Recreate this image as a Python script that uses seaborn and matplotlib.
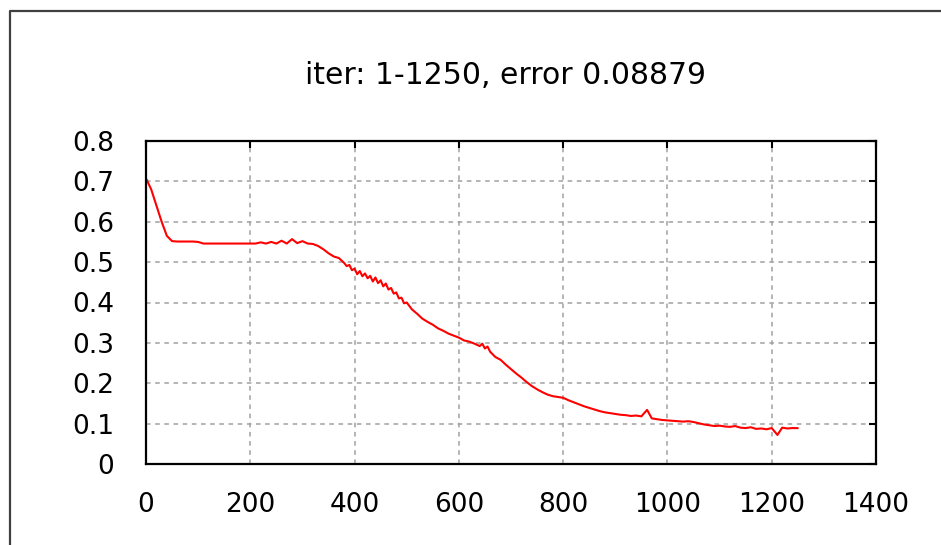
import numpy as np
import pandas as pd
import matplotlib
matplotlib.use("Agg")
import matplotlib.pyplot as plt
import seaborn as sns
from matplotlib.lines import Line2D

# ========== PODACI (ocitano sa slike) ==========
iteracije = [1, 10, 20, 30, 40, 50, 60, 70, 80, 90, 100, 110, 120, 130, 140, 150,
             160, 170, 180, 190, 200, 210, 220, 230, 240, 250, 260, 270, 280, 290,
             300, 310, 320, 330, 340, 350, 360, 370, 380, 385, 390, 395, 400, 405,
             410, 415, 420, 425, 430, 435, 440, 445, 450, 455, 460, 465, 470, 475,
             480, 485, 490, 495, 500, 510, 520, 530, 540, 550, 560, 570,
             580, 590, 600, 610, 620, 630, 640, 645, 650, 655, 660, 670, 680, 690,
             700, 710, 720, 730, 740, 750, 760, 770, 780, 790, 800, 810, 820, 830,
             840, 850, 860, 870, 880, 890, 900, 910, 920, 930, 940, 950, 961, 970,
             980, 990, 1000, 1010, 1020, 1030, 1040, 1050, 1060, 1070, 1080, 1090,
             1100, 1110, 1120, 1130, 1140, 1150, 1160, 1170, 1180, 1190, 1200, 1211,
             1220, 1230, 1240, 1250]
greska = [0.705, 0.680, 0.640, 0.600, 0.565, 0.552, 0.551, 0.551, 0.551, 0.551,
          0.550, 0.546, 0.546, 0.546, 0.546, 0.546, 0.546, 0.546, 0.546, 0.546,
          0.546, 0.546, 0.549, 0.546, 0.550, 0.546, 0.553, 0.546, 0.557, 0.547,
          0.552, 0.546, 0.545, 0.540, 0.532, 0.522, 0.514, 0.510, 0.498, 0.490,
          0.493, 0.480, 0.484, 0.470, 0.478, 0.465, 0.472, 0.460, 0.466, 0.452,
          0.462, 0.448, 0.455, 0.440, 0.447, 0.432, 0.436, 0.422, 0.425, 0.410,
          0.412, 0.398, 0.400, 0.383, 0.372, 0.360, 0.352, 0.345, 0.336, 0.330,
          0.323, 0.318, 0.313, 0.306, 0.303, 0.298, 0.292, 0.298, 0.286, 0.291,
          0.278, 0.265, 0.258, 0.246, 0.235, 0.224, 0.214, 0.203, 0.193, 0.185,
          0.178, 0.172, 0.168, 0.166, 0.164, 0.158, 0.153, 0.148, 0.143, 0.139,
          0.135, 0.131, 0.128, 0.126, 0.124, 0.122, 0.121, 0.119, 0.120, 0.118,
          0.134, 0.113, 0.111, 0.109, 0.108, 0.107, 0.106, 0.105, 0.106, 0.104,
          0.101, 0.098, 0.096, 0.094, 0.095, 0.093, 0.092, 0.094, 0.090, 0.089,
          0.091, 0.087, 0.088, 0.086, 0.089, 0.072, 0.090, 0.088, 0.089, 0.0888]

naslov = "iter: 1-1250, error 0.08879"
x_ticks = [0, 200, 400, 600, 800, 1000, 1200, 1400]
y_ticks = [0, 0.1, 0.2, 0.3, 0.4, 0.5, 0.6, 0.7, 0.8]
y_labels = ["0", "0.1", "0.2", "0.3", "0.4", "0.5", "0.6", "0.7", "0.8"]

df = pd.DataFrame({"iter": iteracije, "error": greska})

# ========== CRTANJE ==========
sns.set_style("white")
plt.rcParams['font.family'] = ['DejaVu Sans']

fig = plt.figure(figsize=(9.41, 5.45), dpi=100)
ax = fig.add_axes([146 / 941, 1 - 464 / 545, 730 / 941, 323 / 545])

sns.lineplot(data=df, x="iter", y="error", color="red", linewidth=1.5, ax=ax)

ax.set_xlim(0, 1400)
ax.set_ylim(0, 0.8)
ax.set_xticks(x_ticks)
ax.set_yticks(y_ticks)
ax.set_yticklabels(y_labels)
ax.set_xlabel("")
ax.set_ylabel("")

ax.grid(True, color="#a0a0a0", linestyle=(0, (3, 3)), linewidth=1.1)
ax.tick_params(direction="in", length=5, width=1.5, top=True, right=True,
               labelsize=19, colors="black")
ax.tick_params(axis="x", pad=20)
ax.tick_params(axis="y", pad=23)
for s in ax.spines.values():
    s.set_color("black")
    s.set_linewidth(1.6)

fig.text(506 / 941, 1 - 75 / 545, naslov, ha="center", va="center",
         fontsize=21.5, color="black")

# spoljasnji okvir (gore i levo)
fig.add_artist(Line2D([9.5 / 941, 9.5 / 941, 1.0], [0.0, 1 - 11 / 545, 1 - 11 / 545],
                      color="#404040", linewidth=1.6, transform=fig.transFigure))

fig.savefig("out.png", dpi=100)
